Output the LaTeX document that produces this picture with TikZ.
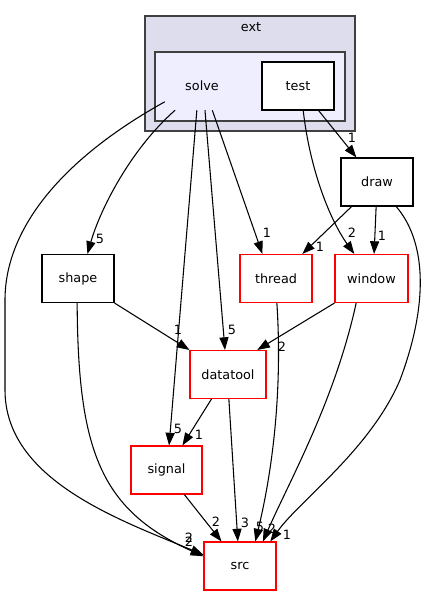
\documentclass[tikz,border=0pt]{standalone}
\usepackage{fontspec}
\setmainfont{DejaVu Sans}
\usetikzlibrary{arrows.meta}

\definecolor{extfill}{HTML}{DDDDEE}
\definecolor{solvefill}{HTML}{EEEEFF}
\definecolor{clusterline}{HTML}{404040}

\begin{document}
\begin{tikzpicture}[x=0.75pt,y=-0.75pt,
		dirbox/.style={draw=black,fill=white,line width=0.8pt,minimum width=54pt,minimum height=36pt,inner sep=0pt,font=\fontsize{9.6}{11}\selectfont},
		reddir/.style={dirbox,draw=red},
		dep/.style={line width=0.8pt,-{Triangle[length=9.5pt,width=6.8pt]}},
		count/.style={inner sep=0pt,font=\fontsize{9.6}{11}\selectfont}]
			\useasboundingbox (0,0) rectangle (429,596);
			
			% Clusters
			\draw[fill=extfill,draw=clusterline,line width=1.1pt] (145,16) rectangle (355,131);
			\node[count] (extlabel) at (251,27) {ext};
			\draw[fill=solvefill,draw=clusterline,line width=1.1pt] (155,52) rectangle (345,121);
			\node[count,minimum width=55.5pt,minimum height=36pt] (solve) at (202,86) {solve};
			\node[dirbox] (test) at (298,86) {test};
			
			% Directories
			\node[dirbox] (draw) at (377,182) {draw};
			\node[dirbox] (shape) at (78,278.5) {shape};
			\node[reddir] (thread) at (276,278.5) {thread};
			\node[reddir,minimum width=54.75pt] (window) at (371.5,278.5) {window};
			\node[reddir,minimum width=57pt] (datatool) at (228,374.5) {datatool};
			\node[reddir,minimum width=53.25pt] (signal) at (166.5,470) {signal};
			\node[reddir] (src) at (240,566) {src};
			
			% Dependencies of solve and test
			\draw[dep] (solve.203) .. controls (60,160) and (5,230) .. (5,300) -- (5,390) .. controls (5,480) and (120,520) .. (src.163);
			\draw[dep] (solve.222) .. controls (130,150) and (100,210) .. (shape.69);
			\draw[dep] (solve.258) -- (signal.84);
			\draw[dep] (solve.277) -- (datatool.97);
			\draw[dep] (solve.293) -- (thread.119);
			\draw[dep] (test.310) -- (draw.130);
			\draw[dep] (test.282) .. controls (310,170) and (330,220) .. (window.125);
			
			% Dependencies of the others
			\draw[dep] (draw.224) -- (thread.43);
			\draw[dep] (draw.268) -- (window.84);
			\draw[dep] (draw.308) .. controls (425,240) and (430,300) .. (400,380) .. controls (370,450) and (300,500) .. (src.39);
			\draw[dep] (shape.south east) -- (datatool.north west);
			\draw[dep] (shape.268) .. controls (78,450) and (100,510) .. (src.165);
			\draw[dep] (window.south west) -- (datatool.40);
			\draw[dep] (window.238) .. controls (335,400) and (290,480) .. (src.47);
			\draw[dep] (thread.272) .. controls (282,380) and (275,460) .. (src.58);
			\draw[dep] (datatool.236) -- (signal.57);
			\draw[dep] (datatool.272) -- (src.95);
			\draw[dep] (signal.306) -- (src.127);
			
			% Counts
			\node[count] (n-solve-src) at (189,538) {2};
			\node[count] (n-shape-src) at (189,542) {2};
			\node[count] (n-solve-shape) at (100,239) {5};
			\node[count] (n-solve-signal) at (178,429) {5};
			\node[count] (n-solve-datatool) at (232,330) {5};
			\node[count] (n-solve-thread) at (267,233) {1};
			\node[count] (n-test-draw) at (352,138) {1};
			\node[count] (n-test-window) at (352,233) {2};
			\node[count] (n-draw-thread) at (320,247) {1};
			\node[count] (n-draw-window) at (382,236) {1};
			\node[count] (n-draw-src) at (287,535) {1};
			\node[count] (n-shape-datatool) at (178,330) {1};
			\node[count] (n-window-datatool) at (282,347) {2};
			\node[count] (n-datatool-signal) at (199,435) {1};
			\node[count] (n-thread-src) at (260,527) {5};
			\node[count] (n-window-src) at (272,529) {2};
			\node[count] (n-datatool-src) at (245,523) {3};
			\node[count] (n-signal-src) at (216,522) {2};
		\end{tikzpicture}
\end{document}
